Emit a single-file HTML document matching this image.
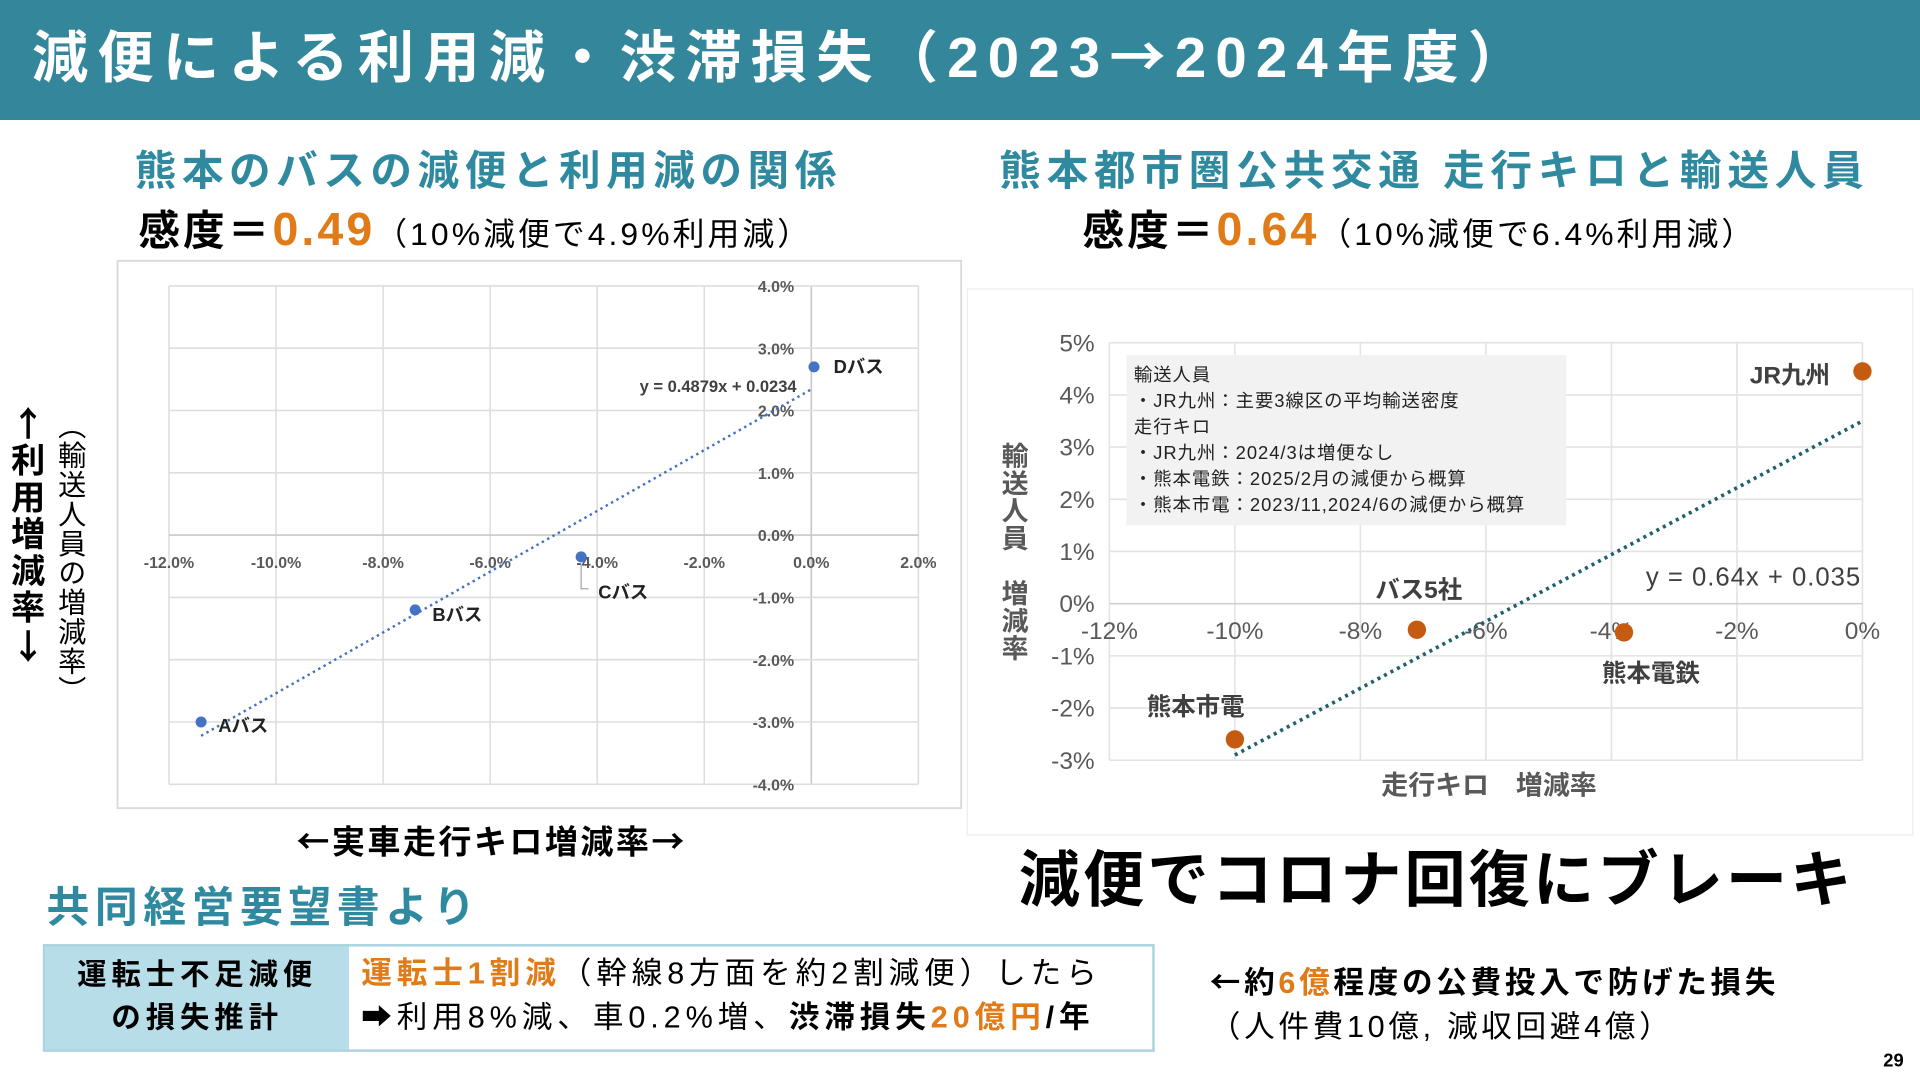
<!DOCTYPE html>
<html><head><meta charset="utf-8">
<style>
html,body{margin:0;padding:0;width:1920px;height:1080px;overflow:hidden;background:#fff}
#wrap{position:absolute;left:0;top:0;width:1568px;height:882px;transform:scale(1.2244898);transform-origin:0 0;font-family:"Liberation Sans","Noto Sans CJK JP",sans-serif}
.abs{position:absolute;white-space:nowrap}
.b{font-weight:bold}
.teal{color:#2f8aa0}
.or{color:#e07b1a}
.cjk{font-family:"Noto Sans CJK JP",sans-serif}
</style></head><body>
<div id="wrap">
<div class="abs" style="left:0;top:0;width:1568px;height:98px;background:#34869b"></div>
<div class="abs b" style="left:26px;top:14px;font-size:46px;color:#fff;line-height:60px;letter-spacing:7.5px">減便による利用減・渋滞損失（2023<span class="cjk">→</span>2024年度）</div>

<div class="abs b teal" style="left:110px;top:118px;font-size:34px;line-height:44px;letter-spacing:4.5px">熊本のバスの減便と利用減の関係</div>
<div class="abs" style="left:113px;top:166px;font-size:26px;line-height:44px;letter-spacing:2.5px"><span class="b" style="font-size:34px">感度＝</span><span class="b or" style="font-size:38px">0.49</span>（10%減便で4.9%利用減）</div>

<div class="abs b teal" style="left:816px;top:118px;font-size:34px;line-height:44px;letter-spacing:4.7px">熊本都市圏公共交通 走行キロと輸送人員</div>
<div class="abs" style="left:884px;top:166px;font-size:26px;line-height:44px;letter-spacing:2.5px"><span class="b" style="font-size:34px">感度＝</span><span class="b or" style="font-size:38px">0.64</span>（10%減便で6.4%利用減）</div>

<div class="abs b" style="left:6px;top:330px;width:34px;font-size:28px;line-height:30px;white-space:normal;text-align:center"><span class="cjk">↑</span><br>利<br>用<br>増<br>減<br>率<br><span class="cjk">↓</span></div>
<div class="abs" style="left:44px;top:336px;writing-mode:vertical-rl;font-size:23px;line-height:26px;letter-spacing:1px">（輸送人員の増減率）</div>

<svg class="abs" style="left:0;top:0" width="1568" height="882" id="svg"></svg>

<div class="abs b" style="left:242px;top:668px;font-size:27px;line-height:36px;letter-spacing:2px"><span class="cjk">←</span>実車走行キロ増減率<span class="cjk">→</span></div>

<div class="abs b" style="left:832px;top:688px;font-size:50px;line-height:62px;letter-spacing:2.5px">減便でコロナ回復にブレーキ</div>

<div class="abs b teal" style="left:38px;top:720px;font-size:35px;line-height:44px;letter-spacing:4.5px">共同経営要望書より</div>

<div class="abs" style="left:35px;top:771px;width:904px;height:84px;border:2px solid #a9d3df;background:#fff"></div>
<div class="abs b" style="left:37px;top:773px;width:248px;height:84px;background:#b7dde8;font-size:24px;line-height:35px;text-align:center;padding-top:6px;box-sizing:border-box;letter-spacing:4px">運転士不足減便<br>の損失推計</div>
<div class="abs" style="left:295px;top:777px;font-size:25px;line-height:36px;letter-spacing:4px"><span class="b or">運転士1割減</span>（幹線8方面を約2割減便）したら<br>➡利用8%減、車0.2%増、<span class="b">渋滞損失</span><span class="b or">20億円</span><span class="b">/年</span></div>

<div class="abs" style="left:988px;top:783px;font-size:25px;line-height:36px;letter-spacing:3px"><span class="b"><span class="cjk">←</span>約</span><span class="b or">6億</span><span class="b">程度の公費投入で防げた損失</span><br>（人件費10億, 減収回避4億）</div>
<div class="abs b" style="left:1538px;top:858px;font-size:15px">29</div>
</div>
<script>
// Left chart data
const leftNames=["Aバス","Bバス","Cバス","Dバス"];
const leftX=[-11.4,-7.4,-4.3,0.05];
const leftY=[-3.0,-1.2,-0.35,2.7];
const leftXTicks=[-12,-10,-8,-6,-4,-2,0,2];
const leftYTicks=[4,3,2,1,0,-1,-2,-3,-4];
const leftSlope=0.4879, leftIntercept=2.34;
// Right chart data
const rightNames=["JR九州","バス5社","熊本電鉄","熊本市電"];
const rightX=[0,-7.1,-3.8,-10];
const rightY=[4.45,-0.5,-0.55,-2.6];
const rightXTicks=[-12,-10,-8,-6,-4,-2,0];
const rightYTicks=[5,4,3,2,1,0,-1,-2,-3];
const rightSlope=0.64, rightIntercept=3.5;

const svg=document.getElementById('svg');
const NS='http://www.w3.org/2000/svg';
function mk(tag,attrs,parent){const e=document.createElementNS(NS,tag);for(const k in attrs)e.setAttribute(k,attrs[k]);(parent||svg).appendChild(e);return e;}
function txt(s,attrs,parent){const e=mk('text',attrs,parent);e.textContent=s;return e;}

// ---- left chart ----
const lg=mk('g',{});


const lbox=mk('rect',{x:96,y:213,width:689,height:447,fill:'#fff',stroke:'#d9d9d9','stroke-width':1.5},lg);


const lx=v=>138+(v+12)/14*(750-138);
const ly=v=>437-v*(640-233)/8;
leftXTicks.forEach(t=>{const l=mk('line',{x1:lx(t),x2:lx(t),y1:ly(4),y2:ly(-4),stroke:t===0?'#c8c8c8':'#dedede','stroke-width':1.3},lg);
});
leftYTicks.forEach(t=>{const l=mk('line',{x1:lx(-12),x2:lx(2),y1:ly(t),y2:ly(t),stroke:t===0?'#c8c8c8':'#dedede','stroke-width':1.3},lg);
});
leftYTicks.forEach(t=>{const e=txt(t.toFixed(1)+'%',{x:lx(0)-14,y:ly(t)+5,'text-anchor':'end','font-size':13,'font-weight':'bold',fill:'#595959'},lg);
});
leftXTicks.forEach(t=>{const e=txt(t.toFixed(1)+'%',{x:lx(t),y:ly(0)+27,'text-anchor':'middle','font-size':13,'font-weight':'bold',fill:'#595959'},lg);
});
{const x0=Math.min(...leftX),x1=0;
const tl=mk('line',{x1:lx(x0),y1:ly(leftSlope*x0+leftIntercept),x2:lx(x1),y2:ly(leftSlope*x1+leftIntercept),stroke:'#4472c4','stroke-width':2,'stroke-dasharray':'2 3'},lg);

const eq=txt('y = 0.4879x + 0.0234',{x:lx(0)-12,y:ly(2.3),'text-anchor':'end','font-size':13.5,'font-weight':'bold',fill:'#404040'},lg);
}
const loff=[[14,8],[14,9],[14,34],[16,5]];
leftX.forEach((v,i)=>{const c=mk('circle',{cx:lx(v),cy:ly(leftY[i]),r:4.5,fill:'#4472c4'},lg);

const t=txt(leftNames[i],{x:lx(v)+loff[i][0],y:ly(leftY[i])+loff[i][1],'font-size':15,'font-weight':'bold',fill:'#222'},lg);
});
{const p=mk('polyline',{points:`${lx(-4.3)},${ly(-0.35)+6} ${lx(-4.3)},${ly(-0.35)+26} ${lx(-4.3)+6},${ly(-0.35)+26}`,fill:'none',stroke:'#a6a6a6'},lg);
}

// ---- right chart ----
const rg=mk('g',{});


const rbox=mk('rect',{x:790,y:236,width:772,height:446,fill:'#fff',stroke:'#eeeeee','stroke-width':1},rg);

const rx=v=>1521+v/12*(1521-906);
const ry=v=>493-v*(621-280)/8;
rightXTicks.forEach(t=>{const l=mk('line',{x1:rx(t),x2:rx(t),y1:ry(5),y2:ry(-3),stroke:'#e3e3e3','stroke-width':1.3},rg);
});
rightYTicks.forEach(t=>{const l=mk('line',{x1:rx(-12),x2:rx(0),y1:ry(t),y2:ry(t),stroke:t===0?'#d0d0d0':'#e3e3e3','stroke-width':1.3},rg);
});
rightYTicks.forEach(t=>{const e=txt(t+'%',{x:894,y:ry(t)+7,'text-anchor':'end','font-size':20,fill:'#595959'},rg);
});
rightXTicks.forEach(t=>{const e=txt(t+'%',{x:rx(t),y:ry(0)+29,'text-anchor':'middle','font-size':20,fill:'#595959'},rg);
});
{const nb=mk('rect',{x:920,y:290,width:359,height:139,fill:'#f2f2f2'},rg);

const lines=['輸送人員','・JR九州：主要3線区の平均輸送密度','走行キロ','・JR九州：2024/3は増便なし','・熊本電鉄：2025/2月の減便から概算','・熊本市電：2023/11,2024/6の減便から概算'];
lines.forEach((s,i)=>{const t=txt(s,{x:926,y:311+i*21.3,'font-size':15,'letter-spacing':'0.8',fill:'#222'},rg);
});}
{const x0=-10,x1=0;
const tl=mk('line',{x1:rx(x0),y1:ry(rightSlope*x0+rightIntercept),x2:rx(x1),y2:ry(rightSlope*x1+rightIntercept),stroke:'#1f5f6e','stroke-width':3,'stroke-dasharray':'2.5 3.5'},rg);

const eq=txt('y = 0.64x + 0.035',{x:1520,y:478,'text-anchor':'end','font-size':21,'letter-spacing':'0.8',fill:'#404040'},rg);
}
const roff=[[-92,10],[-34,-26],[-18,40],[-72,-20]];
rightX.forEach((v,i)=>{const c=mk('circle',{cx:rx(v),cy:ry(rightY[i]),r:7.5,fill:'#c55a11'},rg);

const t=txt(rightNames[i],{x:rx(v)+roff[i][0],y:ry(rightY[i])+roff[i][1],'font-size':20,'font-weight':'bold',fill:'#404040'},rg);
});
{const yt=txt('',{'font-size':22,'font-weight':'bold',fill:'#595959'},rg);

['輸','送','人','員','','増','減','率'].forEach((ch,i)=>{if(!ch)return;const ts=document.createElementNS(NS,'tspan');ts.setAttribute('x',818);ts.setAttribute('y',380+i*22.5);ts.textContent=ch;yt.appendChild(ts);});
const xt=txt('走行キロ　増減率',{x:1216,y:649,'text-anchor':'middle','font-size':22,'font-weight':'bold',fill:'#595959'},rg);
}
</script>
</body></html>
